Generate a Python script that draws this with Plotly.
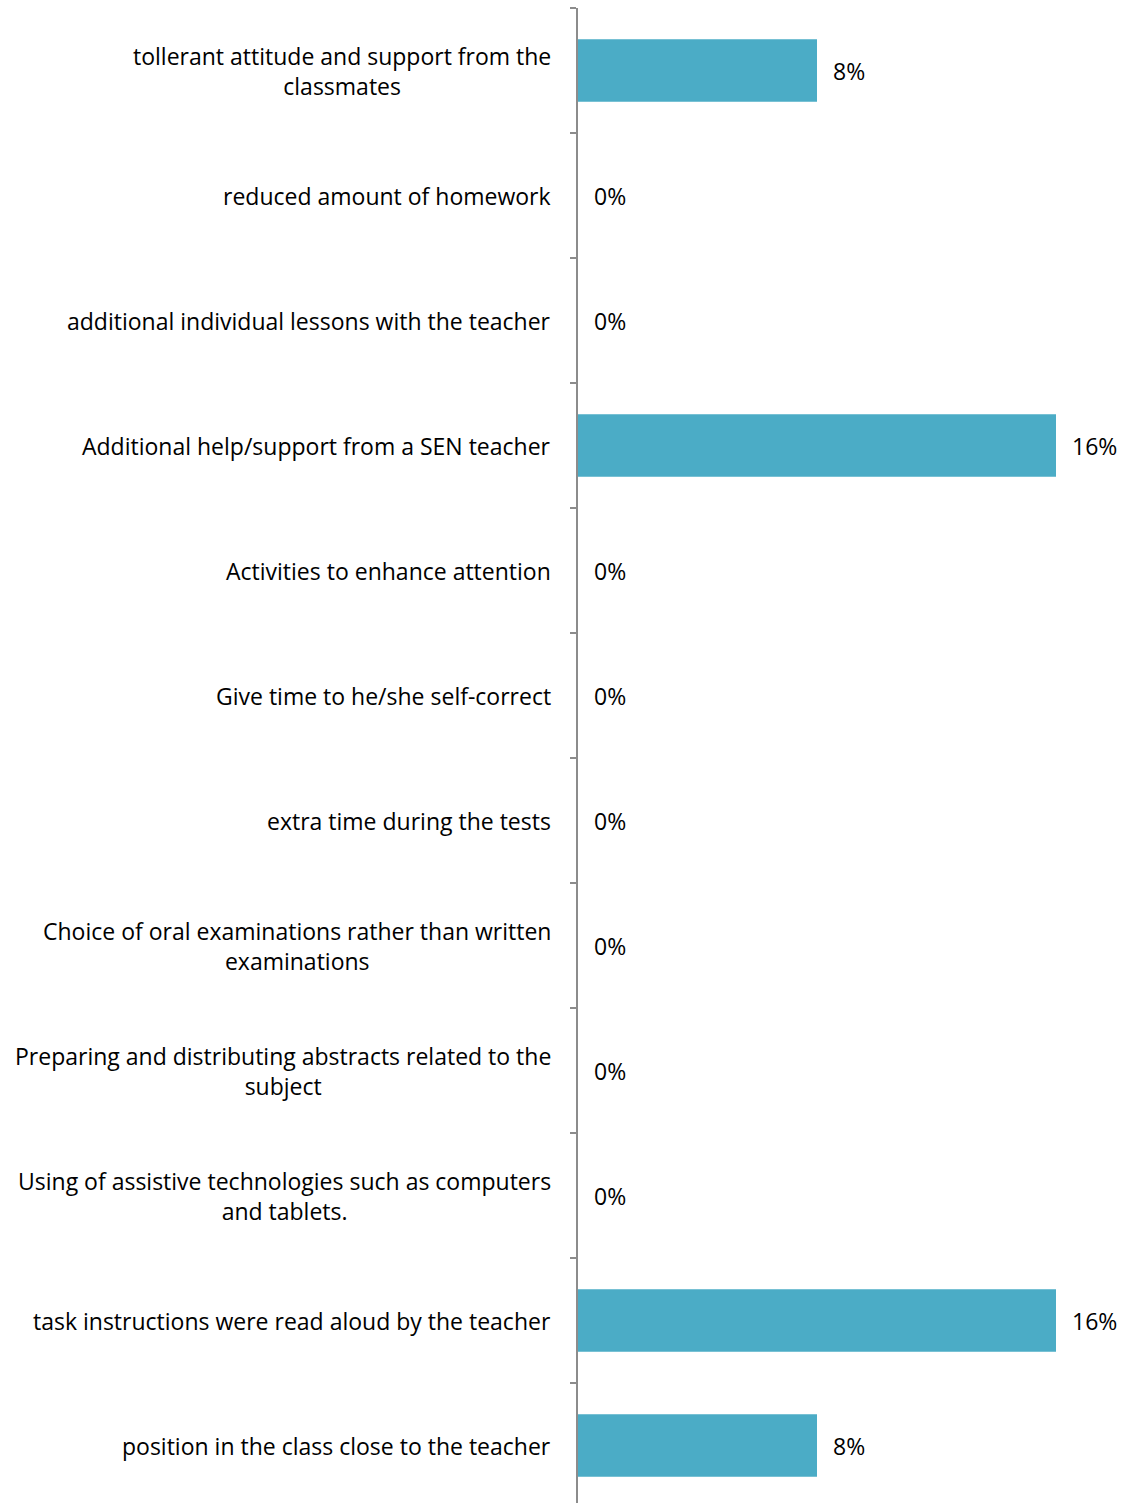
import plotly.graph_objects as go

# Categories listed top to bottom, with the share of responses for each
categories = [
    "tollerant attitude and support from the<br>classmates",
    "reduced amount of homework",
    "additional individual lessons with the teacher",
    "Additional help/support from a SEN teacher",
    "Activities to enhance attention",
    "Give time to he/she self-correct",
    "extra time during the tests",
    "Choice of oral examinations rather than written<br>examinations",
    "Preparing and distributing abstracts related to the<br>subject",
    "Using of assistive technologies such as computers<br>and tablets.",
    "task instructions were read aloud by the teacher",
    "position in the class close to the teacher",
]
values = [0.08, 0.0, 0.0, 0.16, 0.0, 0.0, 0.0, 0.0, 0.0, 0.0, 0.16, 0.08]
value_labels = ["8%", "0%", "0%", "16%", "0%", "0%", "0%", "0%", "0%", "0%", "16%", "8%"]

FONT = "Open Sans"
BAR_COLOR = "#4BACC6"
AXIS_COLOR = "#8C8C8C"

W, H = 1126, 1503
LEFT = 578
TOP = 8
plot_w = W - LEFT
plot_h = H - TOP
row_px = 125.0
bar_px = 478.0  # pixel length of a 16% bar

fig = go.Figure()
fig.add_trace(go.Bar(
    x=values,
    y=categories,
    orientation="h",
    marker=dict(color=BAR_COLOR, line=dict(width=0)),
    width=0.5,
    hoverinfo="skip",
))

# Category labels, right-aligned to the axis with centred lines
for cat in categories:
    fig.add_annotation(
        x=0, xref="paper", y=cat, yref="y",
        text=cat, showarrow=False,
        xanchor="right", yanchor="middle", align="center",
        xshift=-25,
        font=dict(family=FONT, size=23, color="#000000"),
    )

# Value labels just past the end of each bar
for cat, v, lab in zip(categories, values, value_labels):
    fig.add_annotation(
        x=v, xref="x", y=cat, yref="y",
        text=lab, showarrow=False,
        xanchor="left", yanchor="middle",
        xshift=14,
        font=dict(family=FONT, size=23, color="#000000"),
    )

x_max = 0.16 * plot_w / bar_px
y_span = plot_h / row_px

fig.update_layout(
    width=W, height=H,
    margin=dict(l=LEFT, r=0, t=TOP, b=0, pad=0),
    plot_bgcolor="white", paper_bgcolor="white",
    showlegend=False,
    xaxis=dict(range=[0, x_max], visible=False, fixedrange=True),
    yaxis=dict(
        type="category",
        categoryorder="array",
        categoryarray=categories,
        range=[-0.5 + y_span, -0.5],
        showticklabels=False,
        showgrid=False, zeroline=False,
        showline=True, linecolor=AXIS_COLOR, linewidth=1.5,
        ticks="outside", ticklen=6, tickcolor=AXIS_COLOR, tickwidth=1.5,
        tickson="boundaries",
        fixedrange=True,
    ),
)

fig.write_html("out.html")
